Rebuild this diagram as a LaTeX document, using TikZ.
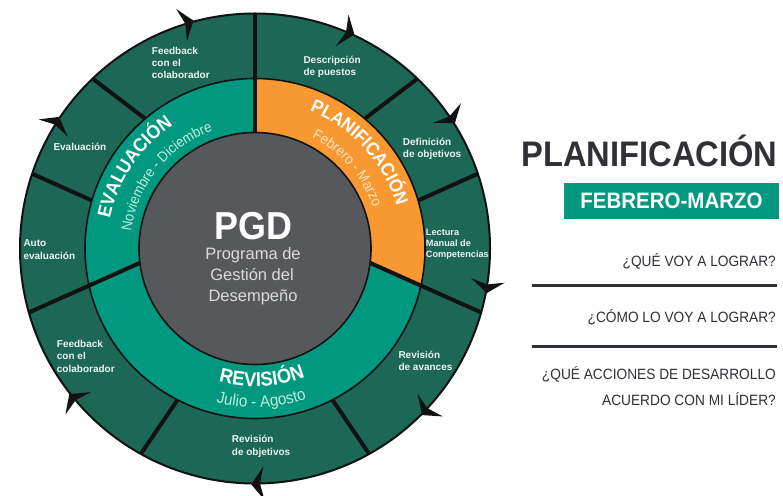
\documentclass[tikz,border=0pt]{standalone}
\usepackage{fontspec}
\setmainfont{Liberation Sans}
\newfontfamily\rbn[FakeStretch=0.92]{Liberation Sans}
\usetikzlibrary{decorations.text}
\definecolor{dkgreen}{RGB}{28,103,85}
\definecolor{tealc}{RGB}{0,153,127}
\definecolor{orangec}{RGB}{247,152,48}
\definecolor{grayc}{RGB}{87,88,91}
\definecolor{txtdark}{RGB}{48,48,54}
\definecolor{linec}{RGB}{18,18,18}
\definecolor{lbltxt}{RGB}{236,244,240}
\definecolor{monthteal}{RGB}{190,236,222}
\definecolor{monthorange}{RGB}{255,228,196}
\definecolor{sublbl}{RGB}{218,218,220}
\begin{document}
\begin{tikzpicture}[x=1pt,y=1pt,
  lbl/.style={font=\bfseries\fontsize{10}{12.3}\selectfont, text=lbltxt, align=left, anchor=north west, inner sep=0pt},
  lblsmall/.style={font=\bfseries\fontsize{9.2}{11.2}\selectfont, text=lbltxt, align=left, anchor=north west, inner sep=0pt},
  divider/.style={line width=4pt, draw=linec},
  ringline/.style={line width=1.6pt, draw=linec},
  question/.style={font=\rbn\fontsize{14.9}{18}\selectfont, text=txtdark, anchor=base east, inner sep=0pt},
  sepline/.style={line width=2.4pt, draw=txtdark},
  cwtip/.style={fill=linec}
]
\useasboundingbox (0,0) rectangle (783,495);
\fill[white] (0,0) rectangle (783,495);

\begin{scope}[shift={(255,246.5)}]
  % discs
  \fill[dkgreen] (0,0) circle[radius=235];
  \fill[tealc] (0,0) circle[radius=170];
  \begin{scope}
    \clip (0,0) circle[radius=170];
    \fill[orangec] (0,37.08) -- (0,250) -- (250,250) -- (250,-74.7) -- cycle;
  \end{scope}
  \fill[grayc] (0,0) circle[radius=116];

  % dividers
  \begin{scope}
    \clip (0,0) circle[radius=235];
    \coordinate (d1a) at (0,116);      \coordinate (d1b) at (0,245);
    \coordinate (d2a) at (110,130);    \coordinate (d2b) at (174.4,179);
    \coordinate (d3a) at (163.1,48);   \coordinate (d3b) at (241.4,83.1);
    \coordinate (d4a) at (115.1,-14.4);\coordinate (d4b) at (257.5,-78);
    \coordinate (d5a) at (77.4,-151.3);\coordinate (d5b) at (127.1,-224.5);
    \coordinate (d6a) at (-77.4,-151.3);\coordinate (d6b) at (-127.1,-224.5);
    \coordinate (d7a) at (-115.1,-14.4);\coordinate (d7b) at (-257.5,-78);
    \coordinate (d8a) at (-163.1,48);  \coordinate (d8b) at (-241.4,83.1);
    \coordinate (d9a) at (-110,130);   \coordinate (d9b) at (-174.4,179);
    \foreach \i in {1,...,9}{
      \draw[divider] (d\i a) -- (d\i b);
    }
  \end{scope}

  % ring outlines
  \draw[ringline] (0,0) circle[radius=116];
  \draw[ringline] (0,0) circle[radius=170];
  \draw[line width=2pt, draw=linec] (0,0) circle[radius=235];

  % clockwise arrow tips
  \foreach \a in {107,67,34,-9,-43,-89,220,148}{
    \fill[cwtip] ({\a-1.9}:236) -- ({\a+1.2}:252) -- ({\a+0.2}:235) -- ({\a+1.2}:218) -- cycle;
  }

  % curved phase labels
  \path[decorate, decoration={text along path, text align=center,
     text={|\rbn\bfseries\fontsize{18.5}{20}\selectfont\color{white}|PLANIFICACIÓN}}]
     (82.5:148) arc[start angle=82.5, end angle=2.5, radius=148];
  \path[decorate, decoration={text along path, text align=center,
     text={|\rbn\fontsize{14.5}{16}\selectfont\color{monthorange}|Febrero - Marzo}}]
     (81:125) arc[start angle=81, end angle=1, radius=125];
  \path[decorate, decoration={text along path, text align=center,
     text={|\rbn\bfseries\fontsize{19}{20}\selectfont\color{white}|EVALUACIÓN}}]
     (186:148) arc[start angle=186, end angle=106, radius=148];
  \path[decorate, decoration={text along path, text align=center,
     text={|\rbn\fontsize{14.5}{16}\selectfont\color{monthteal}|Noviembre - Diciembre}}]
     (181:125) arc[start angle=181, end angle=101, radius=125];
  \path[decorate, decoration={text along path, text align=center,
     text={|\rbn\bfseries\fontsize{20}{22}\selectfont\color{white}|REVISIÓN}}]
     (-127:138) arc[start angle=-127, end angle=-47, radius=138];
  \path[decorate, decoration={text along path, text align=center,
     text={|\rbn\fontsize{16.5}{18}\selectfont\color{monthteal}|Julio - Agosto}}]
     (-127.6:159) arc[start angle=-127.6, end angle=-47.6, radius=159];
\end{scope}

% centre text
\node[font=\rbn\bfseries\fontsize{39}{40}\selectfont, text=white, anchor=base, inner sep=0pt] (pgd) at (253.5,255) {PGD};
\node[font=\fontsize{16.5}{20}\selectfont, text=sublbl, anchor=base, inner sep=0pt] (pgd1) at (253,235) {Programa de};
\node[font=\fontsize{16.5}{20}\selectfont, text=sublbl, anchor=base, inner sep=0pt] (pgd2) at (252,214) {Gestión del};
\node[font=\fontsize{16.5}{20}\selectfont, text=sublbl, anchor=base, inner sep=0pt] (pgd3) at (253,193) {Desempeño};

% outer ring labels
\node[lbl] (fbtop) at (151.7,448.8) {\rule{0pt}{7.8pt}Feedback\\con el\\colaborador};
\node[lbl] (desc) at (303.3,439.5) {\rule{0pt}{7.8pt}Descripción\\de puestos};
\node[lbl] (defi) at (402.7,357.3) {\rule{0pt}{7.8pt}Definición\\de objetivos};
\node[lblsmall] (lect) at (425.7,267.2) {\rule{0pt}{7.2pt}Lectura\\Manual de\\Competencias};
\node[lbl] (rav) at (398.3,144.5) {\rule{0pt}{7.8pt}Revisión\\de avances};
\node[lbl] (robj) at (231.7,60.1) {\rule{0pt}{7.8pt}Revisión\\de objetivos};
\node[lbl] (fbbot) at (56.7,155.5) {\rule{0pt}{7.8pt}Feedback\\con el\\colaborador};
\node[lbl] (auto) at (23.3,256.1) {\rule{0pt}{7.8pt}Auto\\evaluación};
\node[lbl] (eval) at (53.3,352.1) {\rule{0pt}{7.8pt}Evaluación};

% right panel
\node[font=\rbn\bfseries\fontsize{35.5}{40}\selectfont, text=txtdark, anchor=base east, inner sep=0pt] (title) at (777.5,328) {PLANIFICACIÓN};
\node[fill=tealc, minimum width=215pt, minimum height=36pt, inner sep=0pt,
      font=\rbn\bfseries\fontsize{22.3}{24}\selectfont, text=white] (period) at (671.5,294) {FEBRERO-MARZO};
\node[question] (q1) at (776,228) {¿QUÉ VOY A LOGRAR?};
\coordinate (s1a) at (532,209.3); \coordinate (s1b) at (777,209.3);
\draw[sepline] (s1a) -- (s1b);
\node[question] (q2) at (776,172) {¿CÓMO LO VOY A LOGRAR?};
\coordinate (s2a) at (532,148.3); \coordinate (s2b) at (777,148.3);
\draw[sepline] (s2a) -- (s2b);
\node[question] (q3) at (776,116) {¿QUÉ ACCIONES DE DESARROLLO};
\node[question] (q4) at (776,90) {ACUERDO CON MI LÍDER?};
\end{tikzpicture}
\end{document}
